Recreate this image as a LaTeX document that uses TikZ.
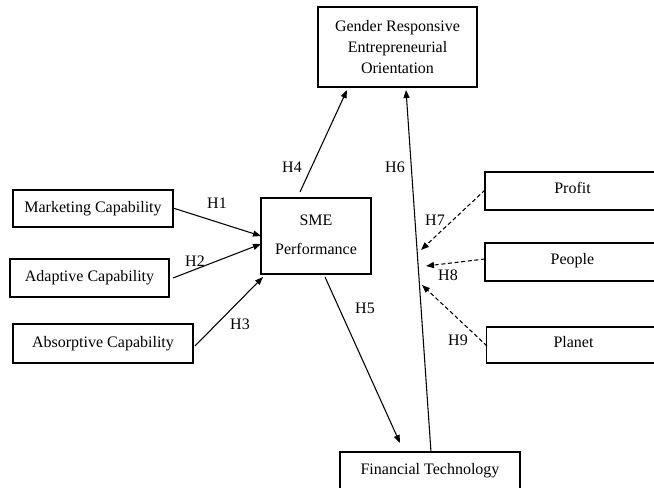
\documentclass[tikz,border=0pt]{standalone}
\usepackage{fontspec}
\setmainfont{Liberation Serif}
\usetikzlibrary{arrows.meta}
\begin{document}
\begin{tikzpicture}[x=0.75pt,y=-0.75pt,
  font=\fontsize{12pt}{16pt}\selectfont,
  box/.style={draw, line width=0.8pt, rectangle, inner sep=0pt, align=center},
  arr/.style={line width=0.8pt, -{Triangle[length=6pt,width=4.5pt]}},
  darr/.style={arr, dash pattern=on 3pt off 2pt},
  hyp/.style={inner sep=0pt}]
\useasboundingbox (0,0) rectangle (654,488);
\clip (0,0) rectangle (654,488);
% boxes
\node[box, minimum width=119.25pt, minimum height=60pt] (gero) at (397.5,47)
  {Gender Responsive\\Entrepreneurial\\Orientation};
\node[box, minimum width=120pt, minimum height=27.75pt] (mkt) at (93,208.5) {Marketing Capability};
\node[box, minimum width=119.25pt, minimum height=28.5pt] (adp) at (89.5,278) {Adaptive Capability};
\node[box, minimum width=135pt, minimum height=29.25pt] (abs) at (103,343.5) {Absorptive Capability};
\node[box, minimum width=82.5pt, minimum height=57pt] (sme) at (316,236)
  {\raisebox{6.5pt}{\begin{tabular}{@{}c@{}}SME\\[5.5pt]Performance\end{tabular}}};
\node[box, minimum width=131.25pt, minimum height=28.5pt] (profit) at (572.5,191) {\raisebox{4pt}{Profit}};
\node[box, minimum width=131.25pt, minimum height=28.5pt] (people) at (572.5,262) {\raisebox{4pt}{People}};
\node[box, minimum width=130pt, minimum height=27pt] (planet) at (573.5,345) {\raisebox{4pt}{Planet}};
\node[box, minimum width=135pt, minimum height=28.5pt] (fintech) at (430,471) {Financial Technology};
% connector end points
\coordinate (h1s) at (173,208);
\coordinate (h1e) at (261,236);
\coordinate (h2s) at (173,278);
\coordinate (h2e) at (261,244);
\coordinate (h3s) at (195,346);
\coordinate (h3e) at (263,277);
\coordinate (h4s) at (300,192);
\coordinate (h4e) at (347,90);
\coordinate (h5s) at (325,277);
\coordinate (h5e) at (400,443);
\coordinate (h6s) at (431,452);
\coordinate (h6e) at (406,90);
\coordinate (h7s) at (485,190);
\coordinate (h7e) at (421,250);
\coordinate (h8s) at (485,259);
\coordinate (h8e) at (426,266);
\coordinate (h9s) at (487,346);
\coordinate (h9e) at (422,285);
% connectors
\draw[arr] (h1s) -- (h1e);
\draw[arr] (h2s) -- (h2e);
\draw[arr] (h3s) -- (h3e);
\draw[arr] (h4s) -- (h4e);
\draw[arr] (h5s) -- (h5e);
\draw[arr] (h6s) -- (h6e);
\draw[darr] (h7s) -- (h7e);
\draw[darr] (h8s) -- (h8e);
\draw[darr] (h9s) -- (h9e);
% labels
\node[hyp] (l1) at (217,203) {H1};
\node[hyp] (l2) at (195,261) {H2};
\node[hyp] (l3) at (240,324) {H3};
\node[hyp] (l4) at (292,167) {H4};
\node[hyp] (l5) at (365,308) {H5};
\node[hyp] (l6) at (395,167) {H6};
\node[hyp] (l7) at (435,220) {H7};
\node[hyp] (l8) at (448,275) {H8};
\node[hyp] (l9) at (458,340) {H9};
\end{tikzpicture}
\end{document}
